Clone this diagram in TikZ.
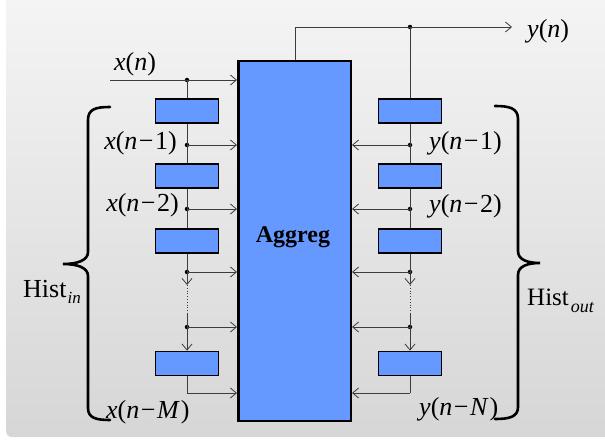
\documentclass[tikz,border=0pt]{standalone}
\usepackage{fontspec}
\setmainfont{Liberation Serif}
\usetikzlibrary{arrows.meta}
\definecolor{blk}{RGB}{102,153,255}
\definecolor{linec}{RGB}{60,60,60}
\newcommand\mi[1]{\textit{#1}}
\newcommand\mneg{\kern1.5pt−\kern1.5pt}
\begin{document}
\begin{tikzpicture}[x=1pt,y=-1pt,
  dly/.style={draw=black,line width=1.8pt,fill=blk,minimum width=63pt,minimum height=24pt,inner sep=0pt},
  bigblk/.style={draw=black,line width=2.5pt,fill=blk,minimum width=112.5pt,minimum height=359.5pt,inner sep=0pt},
  conn/.style={draw=linec,line width=0.8pt},
  arr/.style={conn,-{Straight Barb[length=6pt,width=10pt,line width=0.8pt]}},
  dotc/.style={fill=black,circle,inner sep=0pt,minimum size=4.5pt},
  lbl/.style={font=\fontsize{26}{26}\selectfont,inner sep=0pt},
  brace/.style={draw=black,line width=2.6pt,line cap=round}
]
\useasboundingbox (0,0) rectangle (605,441);
\fill[white] (0,0) rectangle (605,441);
\shade[top color=black!4,bottom color=black!16,rounded corners=6pt] (6,-10) rectangle (615,437);

% main block
\node[bigblk] (agg) at (294.5,241) {};
\node[font=\fontsize{24}{24}\selectfont\bfseries,inner sep=0pt] (agglbl) at (293,237) {Aggreg};

% left delay boxes
\node[dly] (l1) at (187,111) {};
\node[dly] (l2) at (187,176) {};
\node[dly] (l3) at (187,241) {};
\node[dly] (l4) at (187,363.5) {};
% right delay boxes
\node[dly] (r1) at (410,111) {};
\node[dly] (r2) at (410,176) {};
\node[dly] (r3) at (410,241) {};
\node[dly] (r4) at (410,363.5) {};

% left taps
\coordinate (xin) at (110,80);
\node[dotc] (ld0) at (187,80) {};
\node[dotc] (ld1) at (187,145) {};
\node[dotc] (ld2) at (187,209) {};
\node[dotc] (ld3) at (187,272) {};
\node[dotc] (ld4) at (187,327) {};
\coordinate (ld5) at (187,393);
\coordinate (la3) at (187,285);
\coordinate (lb3) at (187,313);

% right taps
\node[dotc] (rd0) at (410,27) {};
\node[dotc] (rd1) at (410,145) {};
\node[dotc] (rd2) at (410,209) {};
\node[dotc] (rd3) at (410,272) {};
\node[dotc] (rd4) at (410,327) {};
\coordinate (rd5) at (410,393);
\coordinate (ra3) at (410,285);
\coordinate (rb3) at (410,313);
\coordinate (outc) at (295,27);
\coordinate (yout) at (512,27);

% left connectors
\draw[arr] (xin) -- (xin -| agg.west);
\draw[conn] (ld0.center) -- (l1.north);
\draw[conn] (l1.south) -- (l2.north);
\draw[conn] (l2.south) -- (l3.north);
\draw[conn] (l3.south) -- (ld3.center);
\draw[arr] (ld3.center) -- (la3);
\draw[conn,dotted,line width=1pt] (la3) -- (lb3);
\draw[conn] (lb3) -- (ld4.center);
\draw[arr] (ld4.center) -- (l4.north);
\draw[conn] (l4.south) -- (ld5);
\foreach \n in {1,2,3,4} \draw[arr] (ld\n.center) -- (ld\n.center -| agg.west);
\draw[arr] (ld5) -- (ld5 -| agg.west);

% right connectors
\draw[conn] (agg.north -| outc) -- (outc);
\draw[arr] (outc) -- (yout);
\draw[conn] (rd0.center) -- (r1.north);
\draw[conn] (r1.south) -- (r2.north);
\draw[conn] (r2.south) -- (r3.north);
\draw[conn] (r3.south) -- (rd3.center);
\draw[arr] (rd3.center) -- (ra3);
\draw[conn,dotted,line width=1pt] (ra3) -- (rb3);
\draw[conn] (rb3) -- (rd4.center);
\draw[arr] (rd4.center) -- (r4.north);
\draw[conn] (r4.south) -- (rd5);
\foreach \n in {1,2,3,4} \draw[arr] (rd\n.center) -- (rd\n.center -| agg.east);
\draw[arr] (rd5) -- (rd5 -| agg.east);

% labels
\node[lbl,anchor=west] (lxn) at (114,64) {\mi{x}(\mi{n})};
\node[lbl,anchor=west] (lyn) at (527,31) {\mi{y}(\mi{n})};
\node[lbl,anchor=east] (lx1) at (177,143) {\mi{x}(\mi{n}\mneg1)};
\node[lbl,anchor=east] (lx2) at (179,205) {\mi{x}(\mi{n}\mneg2)};
\node[lbl,anchor=west] (lxm) at (106,412) {\mi{x}(\mi{n}\mneg\mi{M}\kern1pt)};
\node[lbl,anchor=west] (ly1) at (429,143) {\mi{y}(\mi{n}\mneg1)};
\node[lbl,anchor=west] (ly2) at (429,206) {\mi{y}(\mi{n}\mneg2)};
\node[lbl,anchor=west] (lyn2) at (419,409) {\mi{y}(\mi{n}\mneg\mi{N}\kern1pt)};

\node[font=\fontsize{26}{26}\selectfont,inner sep=0pt,anchor=base west] (hin) at (23,297)
  {Hist\kern1pt\raisebox{-6pt}{\fontsize{17}{17}\selectfont\itshape in}};
\node[font=\fontsize{25}{25}\selectfont,inner sep=0pt,anchor=base west] (hout) at (527,305)
  {Hist\kern2pt\raisebox{-7pt}{\fontsize{18}{18}\selectfont\itshape out}};

% braces
\draw[brace] (110,107) .. controls (96,107) and (88,109) .. (88,120)
  -- (88,252) .. controls (88,261) and (76,264) .. (63,264)
  .. controls (76,264) and (88,267) .. (88,276)
  -- (88,408) .. controls (88,418) and (96,420) .. (110,420);
\draw[brace] (495,106) .. controls (509,106) and (518,108) .. (518,119)
  -- (518,251) .. controls (518,260) and (528,263) .. (540,263)
  .. controls (528,263) and (518,266) .. (518,275)
  -- (518,407) .. controls (518,417) and (509,419) .. (495,419);
\end{tikzpicture}
\end{document}
